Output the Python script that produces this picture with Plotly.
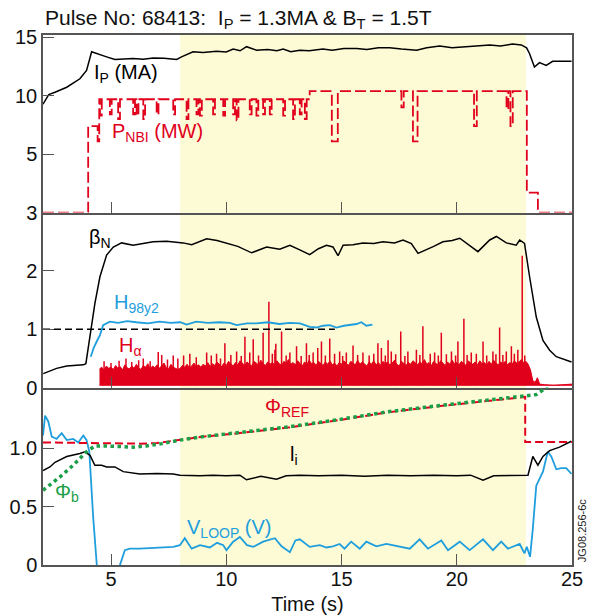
import plotly.graph_objects as go
from plotly.subplots import make_subplots

# ---------------- data ----------------
# Top panel: plasma current (x10 MA, axis units) and NBI power (MW)
ip_t = [2.05, 2.3, 2.57, 3.08, 3.65, 3.94, 4.16, 4.38, 4.81, 5.17, 5.6, 5.96, 6.4, 6.83, 7.3, 7.85, 8.06, 8.3, 8.56, 9.0,
        9.58, 10.0, 10.3, 10.6, 10.88, 11.31, 11.8, 12.2, 12.47, 12.8, 13.19, 13.6, 14.19, 14.6, 15.1, 15.66, 16.1, 16.6, 17.09, 17.6,
        18.26, 18.7, 19.26, 19.8, 20.4, 20.9, 21.43, 21.9, 22.42, 22.8, 23.03, 23.16, 23.37, 23.59, 23.88, 24.16, 24.5, 24.98]
ip_v = [9.28, 10.1, 10.3, 10.73, 11.45, 12.17, 13.77, 13.6, 13.33, 13.1, 13.15, 13.18, 13.12, 13.24, 13.2, 13.1, 13.33, 13.55, 13.77, 13.7,
        13.8, 13.75, 14.0, 13.85, 14.2, 13.9, 13.95, 13.85, 14.0, 13.77, 13.9, 13.85, 14.0, 13.9, 14.05, 14.05, 13.95, 14.1, 14.1, 14.0,
        13.9, 14.1, 14.25, 14.1, 14.2, 14.3, 14.34, 14.25, 14.43, 14.35, 14.1, 13.6, 12.46, 12.84, 12.6, 12.95, 12.95, 12.95]

pnbi_level_t = [2.05, 4.01, 4.49, 13.62, 23.04, 23.52, 25.0]
pnbi_level_v = [0.0, 7.4, 9.7, 10.4, 1.7, 0.0, 0.0]
pnbi_dip_t = [4.42, 4.52, 4.95, 5.31, 5.96, 6.11, 6.4, 6.98, 7.7, 8.28, 8.71, 8.86, 9.43, 9.87, 10.3,
              10.45, 11.02, 11.31, 11.6, 11.89, 12.47, 12.9, 13.19, 13.41, 14.58, 17.6, 18.1, 20.75, 22.16, 22.33]
pnbi_dip_v = [6.1, 8.3, 8.4, 8.0, 8.4, 8.3, 8.0, 8.4, 8.4, 8.0, 8.4, 8.3, 8.4, 8.3, 8.4,
              7.9, 8.4, 8.3, 8.4, 8.4, 8.3, 8.0, 8.4, 8.0, 6.1, 9.0, 6.1, 7.4, 8.85, 7.4]
pnbi_dip_w = [0.07, 0.08, 0.08, 0.08, 0.08, 0.08, 0.08, 0.08, 0.08, 0.08, 0.08, 0.08, 0.08, 0.08, 0.08,
              0.08, 0.08, 0.08, 0.08, 0.08, 0.08, 0.08, 0.08, 0.08, 0.26, 0.1, 0.2, 0.12, 0.08, 0.1]

# Middle panel: beta_N, H98y2, H-alpha
bn_t = [2.06, 2.64, 3.08, 3.8, 3.91, 4.09, 4.3, 4.52, 4.81, 5.1, 5.46, 5.96, 6.4, 6.83, 7.41, 8.13, 8.5, 9.15, 9.6, 10.01,
        10.5, 11.1, 11.75, 12.32, 12.76, 13.19, 13.62, 14.0, 14.35, 14.63, 14.85, 15.07, 15.5, 15.93, 16.4, 16.8, 17.3, 17.67, 18.03, 18.32,
        18.68, 19.0, 19.4, 19.8, 20.13, 20.42, 20.92, 21.43, 21.72, 22.15, 22.58, 22.73, 22.94, 23.16, 23.45, 23.74, 24.03, 24.32, 24.98]
bn_v = [0.24, 0.33, 0.37, 0.39, 0.41, 0.87, 1.44, 1.9, 2.27, 2.41, 2.48, 2.44, 2.47, 2.5, 2.51, 2.48, 2.45, 2.55, 2.52, 2.47,
        2.42, 2.31, 2.41, 2.37, 2.44, 2.36, 2.28, 2.38, 2.44, 2.41, 2.26, 2.44, 2.45, 2.48, 2.47, 2.5, 2.48, 2.53, 2.47, 2.3,
        2.36, 2.42, 2.5, 2.52, 2.56, 2.47, 2.33, 2.53, 2.59, 2.48, 2.44, 2.53, 2.47, 1.9, 1.21, 0.81, 0.64, 0.53, 0.44]

h98_t = [4.12, 4.25, 4.38, 4.52, 4.66, 4.95, 5.3, 5.7, 6.1, 6.6, 7.1, 7.6, 8.0, 8.28, 8.7, 9.2, 9.7, 10.16, 10.45, 10.9,
         11.31, 11.8, 12.3, 12.76, 13.2, 13.62, 13.91, 14.2, 14.49, 14.78, 15.1, 15.36, 15.65, 15.86, 16.08, 16.34]
h98_v = [0.53, 0.68, 0.79, 0.9, 1.07, 1.13, 1.11, 1.14, 1.12, 1.1, 1.13, 1.11, 1.12, 1.08, 1.13, 1.11, 1.12, 1.11, 1.07, 1.1,
         1.1, 1.12, 1.09, 1.11, 1.1, 1.04, 1.03, 1.06, 1.07, 1.03, 1.06, 1.07, 1.09, 1.12, 1.06, 1.08]

unity_t = [2.05, 14.71]
unity_v = [1.0, 1.0]

# H-alpha: upper edge of the dense signal, sampled every 0.1 s from 4.5 s
ha_start, ha_step = 4.5, 0.1
ha_v = [0.32, 0.35, 0.3, 0.37, 0.33,
        0.35, 0.31, 0.38, 0.33, 0.36, 0.3, 0.39, 0.34, 0.32, 0.37,
        0.33, 0.4, 0.34, 0.31, 0.38, 0.35, 0.41, 0.32, 0.37, 0.34,
        0.39, 0.33, 0.38, 0.42, 0.34, 0.32, 0.4, 0.35, 0.33, 0.31,
        0.33, 0.38, 0.35, 0.4, 0.34, 0.37, 0.42, 0.36, 0.39, 0.35,
        0.4, 0.37, 0.43, 0.36, 0.41, 0.38, 0.44, 0.39, 0.36, 0.42,
        0.38, 0.45, 0.4, 0.37, 0.43, 0.39, 0.46, 0.41, 0.38, 0.44,
        0.4, 0.37, 0.45, 0.42, 0.39, 0.47, 0.41, 0.38, 0.44, 0.4,
        0.43, 0.39, 0.46, 0.41, 0.38, 0.45, 0.42, 0.48, 0.4, 0.43,
        0.39, 0.46, 0.42, 0.37, 0.44, 0.4, 0.47, 0.41, 0.43, 0.38,
        0.45, 0.41, 0.38, 0.44, 0.4, 0.46, 0.39, 0.42, 0.37, 0.43,
        0.4, 0.46, 0.41, 0.38, 0.45, 0.42, 0.39, 0.47, 0.4, 0.44,
        0.41, 0.37, 0.44, 0.4, 0.46, 0.39, 0.43, 0.38, 0.45, 0.41,
        0.44, 0.39, 0.42, 0.47, 0.4, 0.37, 0.45, 0.41, 0.38, 0.43,
        0.4, 0.46, 0.42, 0.39, 0.44, 0.41, 0.48, 0.4, 0.43, 0.38,
        0.45, 0.41, 0.39, 0.46, 0.42, 0.38, 0.44, 0.4, 0.47, 0.41,
        0.43, 0.39, 0.45, 0.41, 0.38, 0.46, 0.42, 0.4, 0.44, 0.39,
        0.46, 0.41, 0.43, 0.38, 0.45, 0.4, 0.47, 0.42, 0.39, 0.44,
        0.41, 0.45, 0.39, 0.43, 0.4, 0.46, 0.42, 0.44, 0.48, 0.43,
        0.45, 0.4, 0.3, 0.12]
ha_tail_t = [23.4, 23.5, 23.6, 23.8, 24.2, 24.6, 25.0]
ha_tail_v = [0.09, 0.17, 0.06, 0.05, 0.04, 0.05, 0.06]
ha_floor = 0.04
ha_spike_t = [4.7, 5.0, 5.35, 5.65, 5.9, 6.2, 6.4, 6.7, 7.05, 7.2, 7.45, 7.7, 7.9, 8.15, 8.42, 8.7, 9.15, 9.35, 9.58, 9.75,
              9.94, 10.2, 10.45, 10.65, 10.81, 11.02, 11.17, 11.4, 11.6, 11.85, 12.0, 12.11, 12.15, 12.4, 12.6, 12.76, 13.05,
              13.25, 13.48, 13.6, 13.77, 13.97, 14.13, 14.3, 14.49, 14.7, 14.92, 15.05, 15.21, 15.5, 15.7, 15.93, 16.2, 16.4,
              16.58, 16.73, 16.9, 17.02, 17.16, 17.35, 17.57, 17.75, 17.88, 18.25, 18.4, 18.53, 18.85, 19.04, 19.2, 19.33,
              19.55, 19.77, 19.95, 20.05, 20.31, 20.45, 20.63, 20.85, 21.14, 21.3, 21.57, 21.7, 21.86, 22.0, 22.15, 22.37,
              22.5, 22.65, 22.84, 22.95]
ha_spike_v = [0.45, 0.42, 0.46, 0.5, 0.44, 0.47, 0.5, 0.45, 0.61, 0.56, 0.48, 0.55, 0.5, 0.55, 0.58, 0.52, 0.6, 0.55, 0.58, 0.5,
              0.76, 0.56, 0.62, 0.54, 0.87, 0.6, 0.83, 0.55, 0.94, 1.47, 0.58, 0.65, 0.75, 0.96, 0.55, 0.6, 0.71,
              0.54, 0.76, 0.56, 0.6, 0.68, 0.79, 0.55, 0.84, 0.58, 0.62, 0.54, 0.6, 0.72, 0.56, 0.6, 0.55, 0.58,
              0.76, 0.68, 0.55, 0.81, 0.62, 0.57, 0.96, 0.54, 0.62, 0.65, 0.56, 1.05, 0.58, 0.6, 0.55, 0.94,
              0.57, 0.62, 0.55, 0.79, 1.18, 0.56, 0.6, 0.58, 0.79, 0.55, 0.62, 0.57, 1.03, 0.56, 0.62, 0.71,
              0.58, 0.65, 2.26, 0.55]

# Bottom panel: Phi_REF, Phi_b, l_i, V_loop
phiref_t = [2.05, 6.25, 7.0, 7.99, 9.0, 10.59, 12.76, 15.0, 17.09, 19.2, 21.43, 22.97, 22.97, 25.0]
phiref_v = [1.05, 1.04, 1.045, 1.07, 1.1, 1.13, 1.18, 1.245, 1.31, 1.36, 1.41, 1.44, 1.055, 1.055]

phib_t = [2.05, 2.79, 3.36, 3.94, 4.3, 4.81, 5.96, 6.54, 7.2, 7.99, 9.0, 10.59, 12.76, 15.0, 17.09, 19.2, 21.43,
          22.97, 23.45, 23.67, 23.95]
phib_v = [0.64, 0.755, 0.855, 0.97, 1.02, 1.02, 1.01, 1.02, 1.04, 1.07, 1.1, 1.135, 1.185, 1.25, 1.315, 1.365, 1.415,
          1.445, 1.46, 1.49, 1.53]

li_t = [2.05, 2.35, 2.57, 3.08, 3.65, 3.87, 4.09, 4.3, 4.59, 4.81, 5.17, 5.53, 6.25, 7.0, 7.7, 7.99, 8.86, 9.43, 10.0, 10.59,
        10.88, 11.5, 12.18, 12.6, 13.19, 14.0, 15.0, 16.0, 17.0, 18.0, 19.0, 20.0, 20.6, 21.14, 21.6, 22.3, 23.09, 23.3, 23.52, 23.74,
        24.03, 24.46, 24.97]
li_v = [0.81, 0.84, 0.88, 0.93, 0.955, 0.97, 0.94, 0.855, 0.855, 0.84, 0.84, 0.8, 0.78, 0.785, 0.78, 0.77, 0.765, 0.77, 0.765, 0.77,
        0.73, 0.76, 0.735, 0.765, 0.77, 0.765, 0.77, 0.76, 0.77, 0.765, 0.77, 0.765, 0.77, 0.727, 0.765, 0.77, 0.77, 0.93, 0.855, 0.93,
        0.98, 1.01, 1.06]

vl_t = [2.05, 2.14, 2.28, 2.43, 2.64, 2.86, 3.08, 3.36, 3.58, 3.8, 3.94, 4.06, 4.23, 4.38, 4.5, 5.3, 5.39, 5.6, 5.82, 6.25,
        6.9, 7.7, 7.99, 8.2, 8.5, 8.86, 9.29, 9.6, 9.87, 10.01, 10.3, 10.59, 10.9, 11.17, 11.6, 12.11, 12.4, 12.76, 13.0, 13.19,
        13.62, 14.06, 14.35, 14.63, 14.92, 15.13, 15.42, 15.79, 16.08, 16.51, 16.95, 17.53, 17.96, 18.39, 18.75, 19.33, 19.62, 20.13, 20.56, 21.14,
        21.57, 21.93, 22.22, 22.73, 22.94, 23.04, 23.18, 23.3, 23.45, 23.74, 23.95, 24.1, 24.32, 24.53, 24.75, 24.98]
vl_v = [1.11, 1.28, 1.23, 1.1, 1.08, 1.13, 1.07, 1.08, 1.05, 1.11, 1.07, 0.97, 0.4, -0.04, -0.3, -0.3, 0.0, 0.127, 0.14, 0.14,
        0.145, 0.155, 0.17, 0.23, 0.14, 0.17, 0.15, 0.19, 0.17, 0.127, 0.2, 0.24, 0.17, 0.155, 0.2, 0.23, 0.16, 0.11, 0.21, 0.22,
        0.155, 0.17, 0.15, 0.16, 0.18, 0.14, 0.2, 0.14, 0.2, 0.16, 0.18, 0.16, 0.14, 0.22, 0.14, 0.21, 0.127, 0.2, 0.127, 0.22,
        0.127, 0.2, 0.14, 0.18, 0.1, 0.157, 0.07, 0.31, 0.68, 0.8, 0.97, 0.93, 0.82, 0.83, 0.83, 0.78]

shade_t = [8.0, 23.0]

# ---------------- styling ----------------
RED = "#E1001B"
BLUE = "#1E9EDC"
GREEN = "#1B9E47"
BLACK = "#000000"
FRAME = "#555555"
FONT = "Liberation Sans, Arial, Helvetica, sans-serif"
TXT = 20


def steps_with_dips(base_t, base_v, dip_t, dip_v, dip_w):
    pts = list(zip(base_t, base_v))
    for t, v, w in zip(dip_t, dip_v, dip_w):
        lvl = [bv for bt, bv in zip(base_t, base_v) if bt <= t][-1]
        pts.append((t, v))
        pts.append((t + w, lvl))
    pts.sort()
    return [p[0] for p in pts], [p[1] for p in pts]


pnbi_t, pnbi_v = steps_with_dips(pnbi_level_t, pnbi_level_v, pnbi_dip_t, pnbi_dip_v, pnbi_dip_w)
ha_t = [round(ha_start + ha_step * i, 2) for i in range(len(ha_v))] + ha_tail_t
ha_all = ha_v + ha_tail_v
spk_x, spk_y = [], []
for t, v in zip(ha_spike_t, ha_spike_v):
    spk_x += [t, t, None]
    spk_y += [ha_floor, v, None]

fig = make_subplots(rows=3, cols=1, shared_xaxes=True, vertical_spacing=0)

# top
fig.add_trace(go.Scatter(x=pnbi_t, y=pnbi_v, mode="lines", line=dict(color=RED, width=1.8, dash="11px,4px", shape="hv")), row=1, col=1)
fig.add_trace(go.Scatter(x=ip_t, y=ip_v, mode="lines", line=dict(color=BLACK, width=1.5)), row=1, col=1)
# middle
fig.add_trace(go.Scatter(x=ha_t, y=[ha_floor] * len(ha_t), mode="lines", line=dict(color=RED, width=1)), row=2, col=1)
fig.add_trace(go.Scatter(x=ha_t, y=ha_all, mode="lines", fill="tonexty", fillcolor=RED,
                         line=dict(color=RED, width=1)), row=2, col=1)
fig.add_trace(go.Scatter(x=spk_x, y=spk_y, mode="lines", line=dict(color=RED, width=1.5)), row=2, col=1)
fig.add_trace(go.Scatter(x=unity_t, y=unity_v, mode="lines", line=dict(color=BLACK, width=1.6, dash="7px,4px")), row=2, col=1)
fig.add_trace(go.Scatter(x=h98_t, y=h98_v, mode="lines", line=dict(color=BLUE, width=1.8)), row=2, col=1)
fig.add_trace(go.Scatter(x=bn_t, y=bn_v, mode="lines", line=dict(color=BLACK, width=1.5)), row=2, col=1)
# bottom
fig.add_trace(go.Scatter(x=vl_t, y=vl_v, mode="lines", line=dict(color=BLUE, width=1.8)), row=3, col=1)
fig.add_trace(go.Scatter(x=li_t, y=li_v, mode="lines", line=dict(color=BLACK, width=1.5)), row=3, col=1)
fig.add_trace(go.Scatter(x=phiref_t, y=phiref_v, mode="lines", line=dict(color=RED, width=2, dash="8px,4px")), row=3, col=1)
fig.add_trace(go.Scatter(x=phib_t, y=phib_v, mode="lines", line=dict(color=GREEN, width=3.5, dash="3.5px,3.5px")), row=3, col=1)

fig.add_shape(type="rect", xref="x", yref="paper", x0=shade_t[0], x1=shade_t[1], y0=0, y1=1,
              fillcolor="#FDFAD6", line=dict(width=0), layer="below")

axis_common = dict(showline=True, linecolor=FRAME, linewidth=1.5, ticks="inside", ticklen=11,
                   tickcolor=FRAME, tickwidth=1.2, showgrid=False, zeroline=False, automargin=False,
                   tickfont=dict(family=FONT, size=TXT, color="#111"))
fig.update_xaxes(**axis_common)
fig.update_xaxes(range=[2.05, 25], tickvals=[5, 10, 15, 20, 25], mirror=False, ticklabelstandoff=-5)
fig.update_xaxes(mirror=True, row=1, col=1)
fig.update_xaxes(title=dict(text="Time (s)", font=dict(family=FONT, size=TXT, color="#111"), standoff=8), row=3, col=1)
fig.update_yaxes(**axis_common)
fig.update_yaxes(mirror=True)
fig.update_layout(
    yaxis=dict(domain=[0.665, 1.0], range=[0, 15.2], tickvals=[5, 10, 15], ticktext=["5", "10", "15"]),
    yaxis2=dict(domain=[0.3347, 0.665], range=[0, 3], tickvals=[0, 1, 2, 3], ticktext=["0", "1", "2", "3"]),
    yaxis3=dict(domain=[0.0, 0.3347], range=[0, 1.52], tickvals=[0, 0.5, 1.0], ticktext=["0", "0.5", "1.0"]),
)

ann = []


def label(text, x, y, color, xref, yref, size=TXT):
    ann.append(dict(text=text, x=x, y=y, xref=xref, yref=yref, xanchor="left", yanchor="middle",
                    showarrow=False, font=dict(family=FONT, size=size, color=color)))


label("I<sub>P</sub> (MA)", 4.17, 11.9, BLACK, "x", "y")
label("P<sub>NBI</sub> (MW)", 4.95, 6.85, RED, "x", "y")
label("β<sub>N</sub>", 3.96, 2.56, BLACK, "x2", "y2")
label("H<sub>98y2</sub>", 5.04, 1.45, BLUE, "x2", "y2")
label("H<sub>α</sub>", 5.26, 0.71, RED, "x2", "y2")
label("Φ<sub>REF</sub>", 11.59, 1.35, RED, "x3", "y3")
label("l<sub>i</sub>", 12.67, 0.94, BLACK, "x3", "y3")
label("Φ<sub>b</sub>", 2.48, 0.62, GREEN, "x3", "y3")
label("V<sub>LOOP</sub> (V)", 8.2, 0.315, BLUE, "x3", "y3")
label("Pulse No: 68413:\u00a0\u00a0I<sub>P</sub> = 1.3MA &amp; B<sub>T</sub> = 1.5T", 0.0, 1.03, "#111", "paper", "paper", size=21)
ann.append(dict(text="JG08.256-6c", x=1.019, y=0.064, xref="paper", yref="paper", textangle=-90,
                showarrow=False, xanchor="center", yanchor="middle", font=dict(family=FONT, size=11, color="#222")))

fig.update_layout(
    width=592, height=616,
    margin=dict(l=43, r=20, t=35, b=51, autoexpand=False),
    paper_bgcolor="white", plot_bgcolor="white",
    showlegend=False,
    annotations=ann,
    font=dict(family=FONT, size=TXT, color="#111"),
)

fig.write_html("out.html")
